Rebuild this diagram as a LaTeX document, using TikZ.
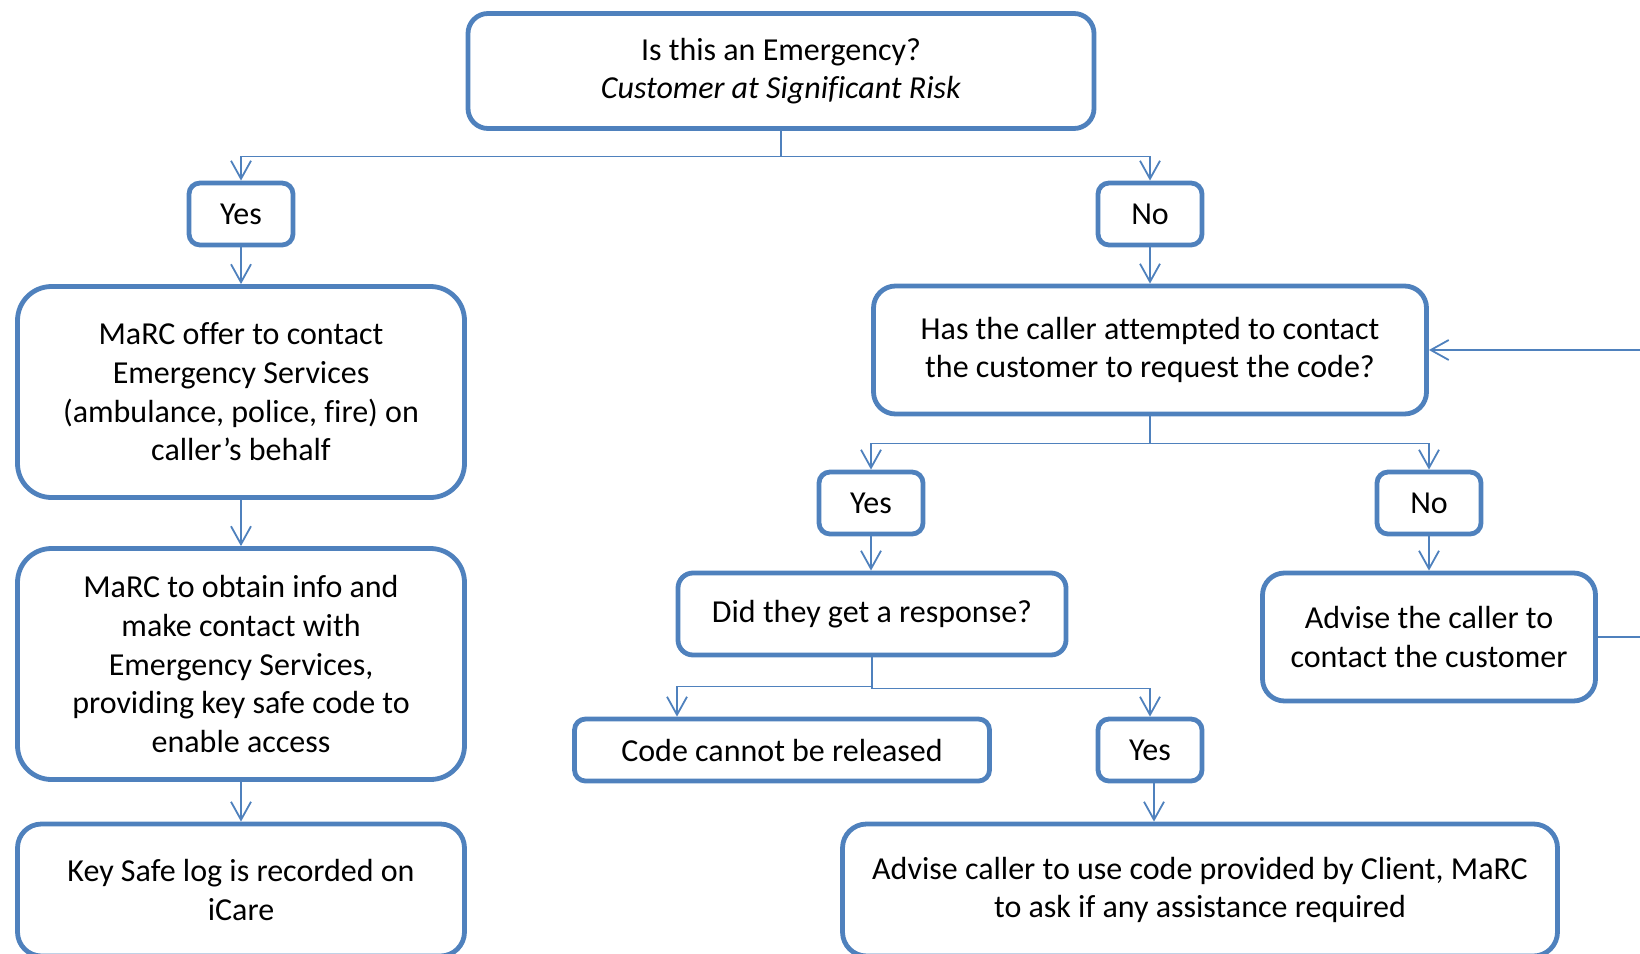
\documentclass[tikz,border=0pt]{standalone}
\usepackage{fontspec}
\setmainfont{Carlito}[Ligatures=NoCommon]
\usetikzlibrary{arrows.meta}
\definecolor{bd}{HTML}{4F81BD}
\begin{document}
\begin{tikzpicture}[x=1pt,y=-1pt,
  box/.style={draw=bd, line width=4.8pt, fill=white, align=center, inner sep=0pt,
    font=\fontsize{32}{38.7}\selectfont},
  small/.style={box, minimum width=104pt, minimum height=62pt, rounded corners=11pt},
  conn/.style={draw=bd, line width=1.8pt, -{Straight Barb[length=18pt,width=20pt,line width=1.8pt]}}]
\useasboundingbox (0,0) rectangle (1640,953);
\clip (0,0) rectangle (1640,953);

\node[box, minimum width=626pt, minimum height=115pt, rounded corners=20pt] (top) at (781,71)
  {Is this an Emergency?\\\textit{Customer at Significant Risk}};
\node[small] (yesL) at (241,214) {Yes};
\node[small] (noT) at (1150,214) {No};
\node[box, minimum width=447pt, minimum height=211pt, rounded corners=34pt] (offer) at (241,392)
  {MaRC offer to contact\\Emergency Services\\(ambulance, police, fire) on\\caller’s behalf};
\node[box, minimum width=447pt, minimum height=231pt, rounded corners=34pt] (obtain) at (241,664)
  {MaRC to obtain info and\\make contact with\\Emergency Services,\\providing key safe code to\\enable access};
\node[box, minimum width=447pt, minimum height=132pt, rounded corners=24pt] (log) at (241,890)
  {Key Safe log is recorded on\\iCare};
\node[box, minimum width=553pt, minimum height=128pt, rounded corners=22pt] (has) at (1150,350)
  {Has the caller attempted to contact\\the customer to request the code?};
\node[small] (yesM) at (871,503) {Yes};
\node[small] (noM) at (1429,503) {No};
\node[box, minimum width=388pt, minimum height=82pt, rounded corners=15pt] (did) at (872,614)
  {Did they get a response?};
\node[box, minimum width=333pt, minimum height=128pt, rounded corners=22pt] (advC) at (1429,637)
  {Advise the caller to\\contact the customer};
\node[box, minimum width=415pt, minimum height=62pt, rounded corners=11pt] (code) at (782,750)
  {Code cannot be released};
\node[small] (yesB) at (1150,750) {Yes};
\node[box, minimum width=715pt, minimum height=132pt, rounded corners=24pt] (use) at (1200,890)
  {Advise caller to use code provided by Client, MaRC\\to ask if any assistance required};

\draw[conn] (top.south) -- ++(0,25.5) -| (yesL.north);
\draw[conn] (top.south) -- ++(0,25.5) -| (noT.north);
\draw[conn] (yesL.south) -- (offer.north);
\draw[conn] (noT.south) -- (has.north);
\draw[conn] (offer.south) -- (obtain.north);
\draw[conn] (obtain.south) -- (log.north);
\draw[conn] (has.south) -- ++(0,27) -| (yesM.north);
\draw[conn] (has.south) -- ++(0,27) -| (noM.north);
\draw[conn] (yesM.south) -- (yesM.south |- did.north);
\draw[conn] (noM.south) -- (advC.north);
\draw[conn] (did.south) -- ++(0,29) -| ([xshift=-105pt]code.north);
\draw[conn] (did.south) -- ++(0,31) -| (yesB.north);
\draw[conn] ([xshift=4pt]yesB.south) -- ([xshift=4pt]yesB.south |- use.north);
\coordinate (loopR) at (1700,637);
\coordinate (loopT) at (1700,350);
\draw[conn] (advC.east) -- (loopR) -- (loopT) -- (has.east);
\end{tikzpicture}
\end{document}
